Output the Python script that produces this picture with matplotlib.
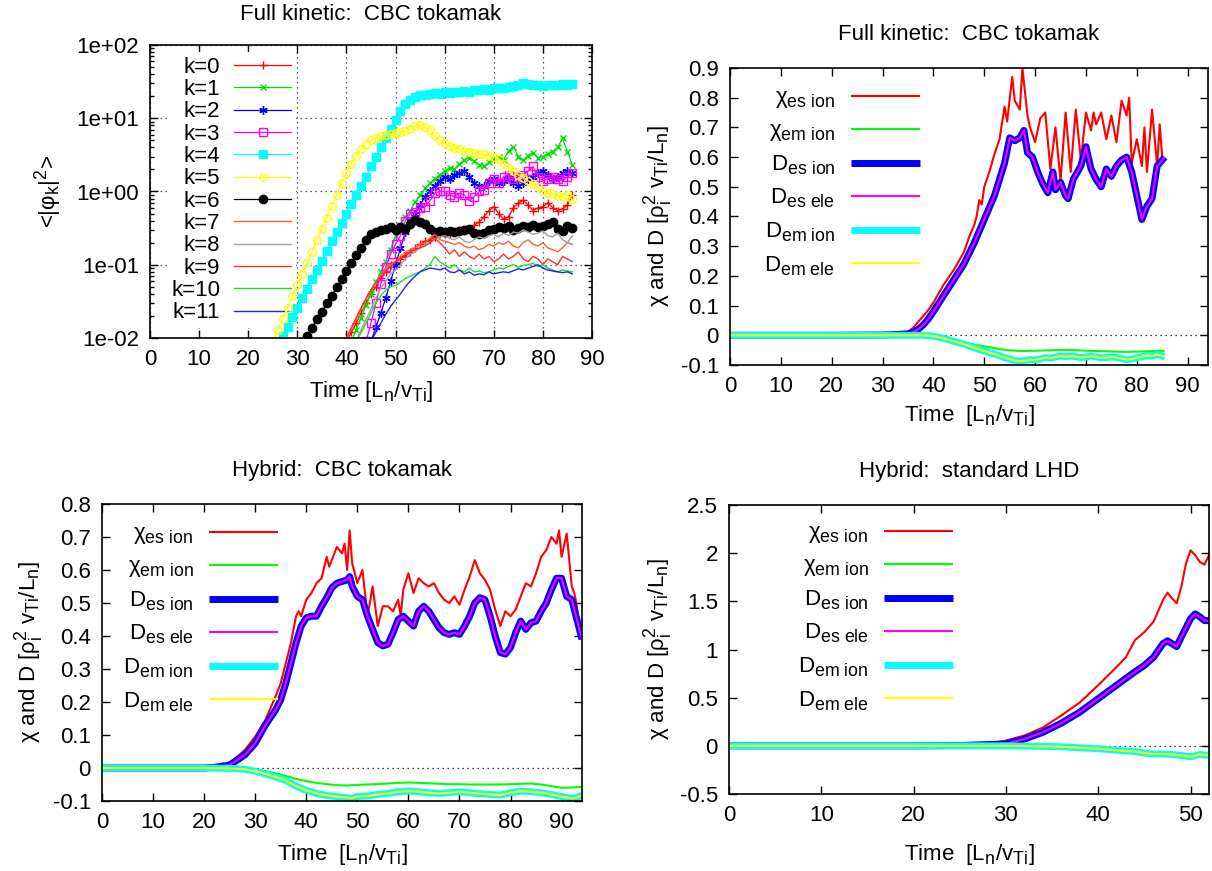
import numpy as np
import matplotlib
matplotlib.use('Agg')
import matplotlib.pyplot as plt
import matplotlib._mathtext as _mt
from matplotlib.ticker import FixedLocator, FuncFormatter, LogLocator, NullFormatter

# larger, lower subscripts (gnuplot-like enhanced text)
try:
    _mt.SHRINK_FACTOR = 0.8
    _mt.FontConstantsBase.sub1 = 0.38
    _mt.FontConstantsBase.sub2 = 0.6
except Exception:
    pass

plt.rcParams['font.family'] = ['Liberation Sans', 'DejaVu Sans']
plt.rcParams['mathtext.fontset'] = 'custom'
plt.rcParams['mathtext.rm'] = 'Liberation Sans'
plt.rcParams['mathtext.it'] = 'Liberation Sans:italic'
plt.rcParams['mathtext.bf'] = 'Liberation Sans:bold'
plt.rcParams['axes.unicode_minus'] = False
FS = 16

# ---------------- Panel 1: Full kinetic, mode amplitudes (log) ----------------
k_labels = ['k=%d' % i for i in range(12)]
k_starts = [40, 41, 45, 44, 26, 25, 31, 40, 42, 40, 42, 45]
k0 = [0.009, 0.012, 0.016, 0.022, 0.03, 0.04, 0.05, 0.065, 0.08, 0.1,
      0.11, 0.12, 0.13, 0.15, 0.17, 0.19, 0.21, 0.22, 0.24, 0.26,
      0.27, 0.26, 0.28, 0.3, 0.29, 0.31, 0.35, 0.38, 0.45, 0.55,
      0.62, 0.5, 0.42, 0.45, 0.6, 0.7, 0.76, 0.65, 0.55, 0.6,
      0.62, 0.7, 0.6, 0.55, 0.58, 0.65, 0.9]
k1 = [0.009, 0.013, 0.019, 0.028, 0.04, 0.058, 0.08, 0.11, 0.16, 0.25,
      0.35, 0.45, 0.55, 0.72, 0.9, 1.1, 1.3, 1.5, 1.7, 1.9,
      2.1, 2.0, 2.4, 2.7, 2.9, 2.6, 2.3, 2.2, 2.5, 2.8,
      3.0, 2.7, 3.6, 4.1, 3.0, 2.7, 3.1, 3.4, 2.9, 3.0,
      3.3, 3.5, 4.0, 5.3, 3.5, 2.3]
k2 = [0.009, 0.014, 0.022, 0.035, 0.06, 0.1, 0.17, 0.28, 0.4, 0.5,
      0.65, 0.85, 1.0, 1.2, 1.4, 1.6, 1.5, 1.7, 1.8, 1.9,
      1.6, 1.3, 1.2, 1.2, 1.4, 1.5, 1.3, 1.4, 1.6, 1.3,
      1.2, 1.3, 1.5, 1.6, 1.8, 1.9, 1.7, 1.5, 1.6, 1.8,
      1.9, 1.8]
k3 = [0.009, 0.016, 0.03, 0.055, 0.093, 0.14, 0.19, 0.25, 0.4, 0.5,
      0.52, 0.6, 0.62, 0.75, 0.95, 1.0, 1.0, 0.9, 0.85, 0.95,
      0.9, 0.75, 0.85, 1.0, 1.05, 1.3, 1.5, 1.3, 1.6, 1.7,
      1.5, 1.6, 1.7, 1.9, 2.2, 1.6, 1.4, 1.5, 1.6, 1.5,
      1.4, 1.6, 1.8]
k4 = [0.0079, 0.0106, 0.0143, 0.0192, 0.0258, 0.035, 0.047, 0.063, 0.085, 0.114,
      0.153, 0.21, 0.28, 0.37, 0.5, 0.67, 0.9, 1.2, 1.6, 2.2,
      3.0, 4.0, 5.4, 7.2, 9.6, 12.5, 15.5, 17.8, 19.5, 20.5,
      21, 21.5, 22, 21.5, 22.5, 22, 23, 22.5, 23.5, 23,
      24, 24.5, 25, 24.5, 25.5, 26, 26, 27, 27.5, 28.5,
      30, 29, 28.5, 28, 27.5, 28, 28.5, 28, 29, 28.5,
      29.5]
k5 = [0.009, 0.0128, 0.0183, 0.026, 0.037, 0.053, 0.075, 0.107, 0.15, 0.22,
      0.31, 0.44, 0.63, 0.9, 1.3, 1.8, 2.4, 3.1, 3.8, 4.5,
      5.0, 5.4, 5.7, 6.0, 6.1, 6.3, 6.5, 6.8, 7.2, 7.8,
      8.0, 7.6, 7.0, 5.8, 5.0, 4.6, 4.2, 3.9, 3.8, 3.6,
      3.5, 3.4, 3.3, 3.2, 3.1, 3.0, 2.8, 2.4, 2.1, 1.9,
      1.7, 1.55, 1.4, 1.25, 1.15, 1.0, 0.95, 0.92, 0.88, 0.85,
      0.9, 0.78]
k6 = [0.0084, 0.0108, 0.0139, 0.018, 0.023, 0.03, 0.038, 0.049, 0.063, 0.081,
      0.105, 0.135, 0.17, 0.22, 0.26, 0.28, 0.30, 0.31, 0.33, 0.30,
      0.33, 0.31, 0.36, 0.41, 0.38, 0.36, 0.31, 0.28, 0.29, 0.28,
      0.29, 0.28, 0.29, 0.30, 0.31, 0.27, 0.26, 0.27, 0.30, 0.31,
      0.33, 0.32, 0.34, 0.30, 0.32, 0.34, 0.33, 0.35, 0.33, 0.34,
      0.36, 0.38, 0.31, 0.29, 0.34, 0.32]
k7 = [0.01, 0.013, 0.018, 0.025, 0.034, 0.045, 0.058, 0.072, 0.09, 0.1,
      0.11, 0.13, 0.15, 0.16, 0.17, 0.19, 0.2, 0.23, 0.26, 0.22,
      0.21, 0.2, 0.19, 0.2, 0.18, 0.17, 0.18, 0.16, 0.17, 0.19,
      0.18, 0.2, 0.19, 0.21, 0.18, 0.17, 0.2, 0.22, 0.19, 0.18,
      0.2, 0.17, 0.16, 0.15, 0.17, 0.2, 0.19]
k8 = [0.009, 0.013, 0.018, 0.025, 0.035, 0.048, 0.06, 0.075, 0.085, 0.1,
      0.12, 0.14, 0.15, 0.17, 0.19, 0.2, 0.22, 0.24, 0.25, 0.23,
      0.22, 0.24, 0.21, 0.2, 0.22, 0.24, 0.23, 0.25, 0.26, 0.24,
      0.27, 0.25, 0.28, 0.27, 0.3, 0.28, 0.26, 0.27, 0.29, 0.25,
      0.24, 0.27, 0.22, 0.2, 0.25]
k9 = [0.01, 0.014, 0.019, 0.026, 0.035, 0.046, 0.058, 0.07, 0.082, 0.095,
      0.11, 0.12, 0.14, 0.15, 0.16, 0.17, 0.18, 0.2, 0.23, 0.2,
      0.17, 0.14, 0.16, 0.13, 0.15, 0.13, 0.12, 0.14, 0.12, 0.13,
      0.11, 0.12, 0.14, 0.12, 0.13, 0.15, 0.12, 0.11, 0.13, 0.12,
      0.1, 0.12, 0.11, 0.1, 0.13, 0.12, 0.11]
k10 = [0.009, 0.012, 0.016, 0.022, 0.03, 0.038, 0.045, 0.05, 0.052, 0.058,
       0.065, 0.07, 0.075, 0.08, 0.09, 0.1, 0.13, 0.11, 0.1, 0.09,
       0.1, 0.085, 0.08, 0.09, 0.08, 0.082, 0.078, 0.08, 0.085, 0.09,
       0.088, 0.095, 0.1, 0.092, 0.098, 0.1, 0.105, 0.095, 0.1, 0.09,
       0.085, 0.08, 0.085, 0.082, 0.08]
k11 = [0.009, 0.012, 0.016, 0.021, 0.027, 0.033, 0.04, 0.05, 0.06, 0.07,
       0.08, 0.085, 0.09, 0.088, 0.085, 0.09, 0.08, 0.078, 0.085, 0.075,
       0.08, 0.072, 0.075, 0.073, 0.08, 0.075, 0.078, 0.08, 0.078, 0.083,
       0.088, 0.085, 0.09, 0.095, 0.1, 0.09, 0.085, 0.082, 0.08, 0.078,
       0.08, 0.075]
k_series = [k0, k1, k2, k3, k4, k5, k6, k7, k8, k9, k10, k11]
k_colors = ['#ff0000', '#00e000', '#0000ff', '#ff00ff', '#00ffff', '#ffff00',
            '#000000', '#ff6030', '#a0a0a0', '#ff3030', '#20e020', '#2020ff']

# ---------------- Panel 2: Full kinetic CBC, chi and D ----------------
fk_t_chi_es = [0, 20, 30, 33, 34, 35, 36, 37, 38, 39,
               40, 42, 44, 45, 46, 47, 48, 48.5, 49, 49.5,
               50, 51, 52, 53, 54, 54.5, 55.5, 56, 57, 57.5,
               58.5, 59, 60, 61, 62, 63, 64, 65, 66, 67,
               68, 69, 70, 71, 71.5, 72, 73, 74, 75, 76,
               77, 78, 78.5, 79, 80, 81, 81.5, 82, 83, 84,
               84.5, 85, 85.5]
fk_chi_es = [0, 0, 0.001, 0.003, 0.005, 0.012, 0.025, 0.045, 0.065, 0.085,
             0.11, 0.17, 0.22, 0.25, 0.28, 0.33, 0.37, 0.40, 0.455, 0.44,
             0.5, 0.55, 0.61, 0.66, 0.77, 0.72, 0.87, 0.79, 0.76, 0.9,
             0.74, 0.70, 0.65, 0.73, 0.75, 0.56, 0.70, 0.52, 0.75, 0.55,
             0.76, 0.59, 0.75, 0.69, 0.75, 0.71, 0.75, 0.66, 0.74, 0.65,
             0.79, 0.74, 0.80, 0.58, 0.66, 0.57, 0.70, 0.55, 0.76, 0.57,
             0.71, 0.60, 0.59]
fk_t_d_es = [0, 20, 30, 33, 35, 36, 37, 38, 39, 40,
             43, 46, 48, 50, 52, 54, 55, 56, 57, 57.8,
             58.5, 59.5, 60.5, 61.5, 62.5, 63.5, 64, 65, 66, 66.5,
             67.5, 69, 70, 71, 72, 73, 74, 75, 76, 77,
             78, 79, 80, 81, 82, 83, 84, 85, 85.5]
fk_d_es_ion = [0, 0, 0.001, 0.003, 0.005, 0.01, 0.02, 0.035, 0.055, 0.08,
               0.16, 0.24, 0.31, 0.39, 0.47, 0.58, 0.665, 0.655, 0.665, 0.69,
               0.615, 0.60, 0.55, 0.51, 0.48, 0.55, 0.49, 0.515, 0.47, 0.46,
               0.525, 0.57, 0.635, 0.56, 0.525, 0.50, 0.56, 0.535, 0.57, 0.59,
               0.60, 0.55, 0.47, 0.39, 0.435, 0.46, 0.57, 0.59, 0.60]
fk_d_es_ele = [0, 0, 0.001, 0.003, 0.005, 0.01, 0.02, 0.035, 0.055, 0.08,
               0.16, 0.24, 0.31, 0.39, 0.47, 0.58, 0.665, 0.655, 0.665, 0.69,
               0.615, 0.60, 0.55, 0.51, 0.48, 0.55, 0.49, 0.515, 0.47, 0.46,
               0.525, 0.57, 0.635, 0.56, 0.525, 0.50, 0.56, 0.535, 0.57, 0.59,
               0.60, 0.55, 0.47, 0.39, 0.435, 0.46, 0.57, 0.59, 0.60]
fk_t_chi_em = [0, 36, 38, 40, 42, 44, 46, 48, 50, 52, 54, 56, 58, 60,
               62, 64, 66, 68, 70, 72, 74, 76, 78, 80, 82, 84, 85.5]
fk_chi_em = [0, 0, -0.002, -0.006, -0.012, -0.018, -0.025, -0.031, -0.037, -0.043,
             -0.049, -0.052, -0.053, -0.052, -0.051, -0.05, -0.049, -0.05, -0.052,
             -0.053, -0.054, -0.055, -0.056, -0.055, -0.054, -0.053, -0.052]
fk_t_d_em = [0, 38, 40, 42, 44, 46, 48, 50, 52, 54,
             55, 56, 57, 58, 59, 60, 61, 62, 63, 64,
             65, 66, 67, 68, 69, 70, 71, 72, 73, 74,
             75, 76, 77, 78, 79, 80, 81, 82, 83, 84,
             85, 85.5]
fk_d_em_ion = [0, 0, -0.003, -0.01, -0.02, -0.03, -0.042, -0.053, -0.063, -0.075,
               -0.08, -0.085, -0.087, -0.085, -0.082, -0.083, -0.08, -0.075, -0.077, -0.073,
               -0.07, -0.072, -0.07, -0.072, -0.075, -0.073, -0.07, -0.073, -0.076, -0.075,
               -0.073, -0.075, -0.078, -0.082, -0.08, -0.076, -0.072, -0.068, -0.07, -0.065,
               -0.07, -0.072]
fk_d_em_ele = list(fk_d_em_ion)

# ---------------- Panel 3: Hybrid CBC ----------------
hc_t_chi_es = [0, 20, 23, 25, 28, 30, 32, 34, 35, 36,
               37, 38, 38.5, 39, 40, 41, 42, 43, 44, 44.5,
               45.5, 46, 47, 47.5, 48, 48.5, 49, 50, 51, 52,
               53, 54, 55, 56, 57, 58, 58.5, 59, 60, 61,
               62, 63, 64, 65, 66, 67, 68, 69, 70, 71,
               72, 73, 74, 75, 76, 77, 78, 79, 80, 81,
               82, 83, 84, 85, 86, 87, 88, 89, 89.5, 90,
               91, 92, 92.5, 93, 93.5]
hc_chi_es = [0, 0, 0.004, 0.014, 0.055, 0.095, 0.146, 0.217, 0.257, 0.318,
             0.379, 0.46, 0.475, 0.46, 0.51, 0.53, 0.56, 0.575, 0.64, 0.61,
             0.65, 0.67, 0.65, 0.68, 0.60, 0.72, 0.62, 0.56, 0.60, 0.46,
             0.55, 0.43, 0.49, 0.49, 0.475, 0.51, 0.46, 0.54, 0.59, 0.53,
             0.575, 0.56, 0.55, 0.56, 0.53, 0.51, 0.50, 0.52, 0.495, 0.54,
             0.58, 0.63, 0.59, 0.57, 0.54, 0.48, 0.43, 0.475, 0.46, 0.48,
             0.52, 0.56, 0.55, 0.59, 0.64, 0.66, 0.70, 0.68, 0.72, 0.64,
             0.71, 0.55, 0.53, 0.49, 0.42]
hc_t_d_es = [0, 20, 22, 25, 28, 30, 32, 34,
             35, 36, 37, 38, 39, 40, 41, 42, 43, 44, 45, 46, 47, 48, 48.5,
             49, 50, 51, 52, 53, 54, 55, 56, 57, 58, 59, 60, 61, 62, 63, 64,
             65, 66, 67, 68, 69, 70, 71, 72, 73, 74, 75, 76, 77, 78, 79, 80,
             81, 82, 83, 84, 85, 86, 87, 88, 89, 90, 91, 92, 93, 94]
hc_d_es_ion = [0, 0, 0.002, 0.009, 0.04, 0.075, 0.13, 0.176,
               0.207, 0.257, 0.318, 0.379, 0.43, 0.455, 0.46, 0.46, 0.49, 0.516,
               0.546, 0.56, 0.565, 0.57, 0.58,
               0.55, 0.52, 0.51, 0.46, 0.42, 0.38, 0.37, 0.375, 0.41, 0.45,
               0.46, 0.445, 0.43, 0.475, 0.49, 0.475,
               0.45, 0.425, 0.41, 0.405, 0.41, 0.405, 0.43, 0.46, 0.50, 0.516,
               0.51, 0.46, 0.40, 0.35, 0.345, 0.365,
               0.41, 0.445, 0.42, 0.44, 0.445, 0.475, 0.50, 0.54, 0.575, 0.575,
               0.52, 0.51, 0.45, 0.39]
hc_d_es_ele = list(hc_d_es_ion)
hc_t_chi_em = [0, 25, 28, 30, 32, 34, 36, 38, 40, 42,
               44, 46, 48, 50, 52, 55, 58, 60, 62, 65,
               68, 70, 72, 75, 78, 80, 82, 84, 86, 88,
               90, 92, 94]
hc_chi_em = [0, 0, -0.002, -0.005, -0.01, -0.016, -0.024, -0.033, -0.04, -0.045,
             -0.049, -0.052, -0.053, -0.051, -0.05, -0.048, -0.045, -0.044, -0.045, -0.047,
             -0.049, -0.049, -0.05, -0.05, -0.05, -0.049, -0.048, -0.047, -0.05, -0.055,
             -0.06, -0.059, -0.057]
hc_t_d_em = [0, 20, 25, 28, 30, 32, 34, 36, 38, 40,
             42, 44, 46, 48, 49, 50, 52, 54, 56, 58,
             60, 62, 64, 66, 68, 70, 72, 74, 76, 78,
             80, 82, 84, 86, 88, 90, 92, 93, 94]
hc_d_em_ion = [0, 0, -0.001, -0.004, -0.01, -0.018, -0.027, -0.038, -0.055, -0.068,
               -0.077, -0.083, -0.087, -0.09, -0.092, -0.086, -0.085, -0.08, -0.077, -0.072,
               -0.07, -0.072, -0.075, -0.077, -0.075, -0.072, -0.075, -0.078, -0.08, -0.082,
               -0.075, -0.07, -0.072, -0.075, -0.08, -0.087, -0.092, -0.09, -0.082]
hc_d_em_ele = list(hc_d_em_ion)

# ---------------- Panel 4: Hybrid standard LHD ----------------
hl_t_chi_es = [0, 20, 25, 28, 30, 32, 34, 36, 38, 40,
               42, 43, 44, 45, 46, 47, 47.5, 48, 48.5, 49,
               49.5, 50, 50.5, 51, 51.5, 52]
hl_chi_es = [0, 0, 0.005, 0.02, 0.055, 0.107, 0.19, 0.315, 0.45, 0.63,
             0.82, 0.92, 1.10, 1.18, 1.29, 1.51, 1.59, 1.53, 1.48, 1.65,
             1.89, 2.03, 1.98, 1.91, 1.88, 1.98]
hl_t_d_es = [0, 20, 25, 30, 32, 34, 36, 38, 40, 42, 44, 45,
             46, 47, 47.5, 48, 48.5, 49, 50, 50.5, 51, 51.5, 52]
hl_d_es_ion = [0, 0, 0.003, 0.02, 0.07, 0.14, 0.235, 0.35, 0.49, 0.63, 0.77, 0.835,
               0.92, 1.06, 1.09, 1.06, 1.03, 1.13, 1.32, 1.37, 1.34, 1.30, 1.30]
hl_d_es_ele = list(hl_d_es_ion)
hl_t_chi_em = [0, 35, 38, 40, 42, 44, 46, 48, 50, 52]
hl_chi_em = [0, 0, -0.012, -0.02, -0.035, -0.048, -0.07, -0.075, -0.09, -0.085]
hl_t_d_em = [0, 30, 34, 36, 38, 40, 42, 44, 45, 46, 47, 48, 49, 50, 51, 52]
hl_d_em_ion = [0, 0, -0.005, -0.01, -0.02, -0.03, -0.045, -0.06, -0.075, -0.085,
               -0.085, -0.09, -0.1, -0.115, -0.09, -0.1]
hl_d_em_ele = list(hl_d_em_ion)

flux_labels = ['χ$_{\\rm es\\ ion}$', 'χ$_{\\rm em\\ ion}$', 'D$_{\\rm es\\ ion}$',
               'D$_{\\rm es\\ ele}$', 'D$_{\\rm em\\ ion}$', 'D$_{\\rm em\\ ele}$']
flux_colors = ['#ff0000', '#00ff00', '#0000ff', '#ff00ff', '#00ffff', '#ffff00']
flux_lw = [1.5, 1.5, 5.0, 1.5, 5.0, 1.5]

xlabel1 = 'Time [L$_{\\rm n}$/v$_{\\rm Ti}$]'
xlabel2 = 'Time  [L$_{\\rm n}$/v$_{\\rm Ti}$]'
ylabel_flux = 'χ and D [ρ$_{\\rm i}^{\\rm 2}$ v$_{\\rm Ti}$/L$_{\\rm n}$]'
ylabel_phi = '<|φ$_{\\rm k}$|$^{\\rm 2}$>'

W, H = 1212, 871
fig = plt.figure(figsize=(W / 100, H / 100), dpi=100)


def rect(x0, x1, ytop, ybot):
    return [x0 / W, 1 - ybot / H, (x1 - x0) / W, (ybot - ytop) / H]


def style(ax):
    for s in ax.spines.values():
        s.set_linewidth(1.2)
    ax.tick_params(which='major', direction='in', top=True, right=True,
                   length=6, width=1, labelsize=FS, pad=8)
    ax.tick_params(which='minor', direction='in', top=True, right=True,
                   length=3, width=1)


gfmt = FuncFormatter(lambda v, p: '%g' % round(v, 6))

# ---- Panel 1 ----
ax1 = fig.add_axes(rect(150, 592, 45, 338))
markers = ['+', 'x', (6, 2, 0), 's', 's', 'o', 'o', None, None, None, None, None]
mfc = ['#ff0000', '#00e000', '#0000ff', 'none', '#00ffff', 'none', '#000000',
       None, None, None, None, None]
msz = [5.5, 5, 6, 5.5, 5.5, 5.5, 6, 0, 0, 0, 0, 0]
lws = [0.9, 0.9, 0.9, 0.9, 0.9, 0.9, 0.9, 1.0, 1.0, 1.0, 1.0, 1.0]
for i in range(12):
    t = k_starts[i] + np.arange(len(k_series[i]))
    kw = dict(color=k_colors[i], lw=lws[i], label=k_labels[i])
    if markers[i] is not None:
        kw.update(marker=markers[i], ms=msz[i], mfc=mfc[i], mec=k_colors[i], mew=1.0)
    ax1.plot(t, k_series[i], **kw)
ax1.set_yscale('log')
ax1.set_xlim(0, 90)
ax1.set_ylim(1e-2, 1e2)
ax1.xaxis.set_major_locator(FixedLocator(np.arange(0, 91, 10)))
ax1.xaxis.set_major_formatter(gfmt)
ax1.yaxis.set_major_locator(LogLocator(base=10, numticks=10))
ax1.yaxis.set_minor_locator(LogLocator(base=10, subs=np.arange(2, 10), numticks=50))
ax1.yaxis.set_minor_formatter(NullFormatter())
ax1.yaxis.set_major_formatter(FuncFormatter(lambda v, p: '%.0e' % v))
ax1.grid(True, which='major', ls=(0, (1, 3)), color='#303030', lw=0.9)
style(ax1)
ax1.set_title('Full kinetic:  CBC tokamak', fontsize=FS, pad=18)
ax1.set_xlabel(xlabel1, fontsize=FS)
ax1.set_ylabel(ylabel_phi, fontsize=FS)
ax1.xaxis.set_label_coords(0.5, -0.201)
ax1.xaxis.label.set_va('baseline')
ax1.yaxis.set_label_coords(-0.229, 0.5)
ax1.yaxis.label.set_va('center')
leg1 = ax1.legend(loc='upper right', bbox_to_anchor=(0.330, 0.975), fontsize=FS,
                  markerfirst=False, numpoints=1, handlelength=2.6,
                  handletextpad=0.6, labelspacing=0.06, borderpad=0.2,
                  borderaxespad=0, frameon=True, fancybox=False,
                  edgecolor='none', facecolor='white', framealpha=1.0)
# key box hides the grid but the data curves run over it
leg1.set_zorder(1.8)


def flux_panel(rect_, title, xlim, ylim, yticks, series, xlabel_y, ylabel_x, legpos):
    ax = fig.add_axes(rect_)
    ax.axhline(0, color='black', lw=0.9, ls=(0, (1, 3)), zorder=1)
    for (tt, vv), lab, c, lw in zip(series, flux_labels, flux_colors, flux_lw):
        ax.plot(tt, vv, color=c, lw=lw, label=lab, solid_capstyle='butt')
    ax.set_xlim(*xlim)
    ax.set_ylim(*ylim)
    ax.xaxis.set_major_locator(FixedLocator(np.arange(0, xlim[1] + 0.1, 10)))
    ax.yaxis.set_major_locator(FixedLocator(yticks))
    ax.xaxis.set_major_formatter(gfmt)
    ax.yaxis.set_major_formatter(gfmt)
    style(ax)
    ax.set_title(title, fontsize=FS, pad=20)
    ax.set_xlabel(xlabel2, fontsize=FS)
    ax.set_ylabel(ylabel_flux, fontsize=FS)
    ax.xaxis.set_label_coords(0.5, xlabel_y)
    ax.xaxis.label.set_va('baseline')
    ax.yaxis.set_label_coords(ylabel_x, 0.5)
    ax.yaxis.label.set_va('center')
    ax.legend(loc='upper right', bbox_to_anchor=legpos, fontsize=FS,
              markerfirst=False, handlelength=3.1, handletextpad=0.7,
              labelspacing=0.45, borderpad=0, borderaxespad=0, frameon=False)
    return ax


ax2 = flux_panel(rect(730, 1208, 68, 365), 'Full kinetic:  CBC tokamak', (0, 94), (-0.1, 0.9),
                 np.round(np.arange(-0.1, 0.91, 0.1), 2),
                 [(fk_t_chi_es, fk_chi_es), (fk_t_chi_em, fk_chi_em),
                  (fk_t_d_es, fk_d_es_ion), (fk_t_d_es, fk_d_es_ele),
                  (fk_t_d_em, fk_d_em_ion), (fk_t_d_em, fk_d_em_ele)],
                 -0.189, -0.151, (0.397, 0.935))

ax3 = flux_panel(rect(102, 582, 504, 801), 'Hybrid:  CBC tokamak', (0, 94), (-0.1, 0.8),
                 np.round(np.arange(-0.1, 0.81, 0.1), 2),
                 [(hc_t_chi_es, hc_chi_es), (hc_t_chi_em, hc_chi_em),
                  (hc_t_d_es, hc_d_es_ion), (hc_t_d_es, hc_d_es_ele),
                  (hc_t_d_em, hc_d_em_ion), (hc_t_d_em, hc_d_em_ele)],
                 -0.199, -0.152, (0.367, 0.935))

ax4 = flux_panel(rect(729, 1209, 505, 794), 'Hybrid:  standard LHD', (0, 52), (-0.5, 2.5),
                 np.arange(-0.5, 2.51, 0.5),
                 [(hl_t_chi_es, hl_chi_es), (hl_t_chi_em, hl_chi_em),
                  (hl_t_d_es, hl_d_es_ion), (hl_t_d_es, hl_d_es_ele),
                  (hl_t_d_em, hl_d_em_ion), (hl_t_d_em, hl_d_em_ele)],
                 -0.228, -0.148, (0.467, 0.94))

fig.savefig('out.png', dpi=100)
